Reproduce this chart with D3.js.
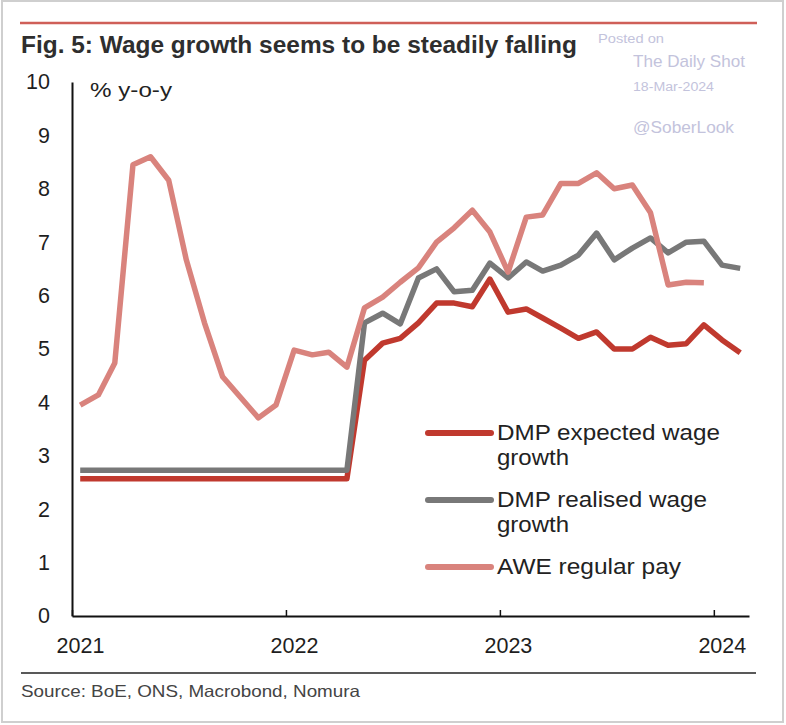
<!DOCTYPE html>
<html><head><meta charset="utf-8">
<script src="https://cdn.jsdelivr.net/npm/d3@7"></script>
<style>
body{margin:0;background:#fff;}
svg text{font-family:"Liberation Sans",Arial,sans-serif;}
</style></head>
<body><svg id="c" width="786" height="725"></svg>
<script>
const months = ["2021-01","2021-02","2021-03","2021-04","2021-05","2021-06","2021-07","2021-08","2021-09","2021-10","2021-11","2021-12",
"2022-01","2022-02","2022-03","2022-04","2022-05","2022-06","2022-07","2022-08","2022-09","2022-10","2022-11","2022-12",
"2023-01","2023-02","2023-03","2023-04","2023-05","2023-06","2023-07","2023-08","2023-09","2023-10","2023-11","2023-12",
"2024-01","2024-02"];
const dmpExpected = [2.57,2.57,2.57,2.57,2.57,2.57,2.57,2.57,2.57,2.57,2.57,2.57,2.57,2.57,2.57,2.57,
4.79,5.11,5.2,5.49,5.86,5.86,5.79,6.31,5.69,5.75,5.58,5.39,5.2,5.32,5.0,5.0,5.22,5.07,5.1,5.45,5.17,4.93];
const dmpRealised = [2.73,2.73,2.73,2.73,2.73,2.73,2.73,2.73,2.73,2.73,2.73,2.73,2.73,2.73,2.73,2.73,
5.49,5.67,5.47,6.33,6.5,6.07,6.1,6.61,6.33,6.63,6.46,6.57,6.76,7.17,6.67,6.89,7.08,6.8,7.0,7.02,6.57,6.51];
const aweRegular = [3.95,4.14,4.74,8.45,8.6,8.16,6.67,5.49,4.48,4.1,3.71,3.95,
4.98,4.89,4.94,4.66,5.77,5.97,6.25,6.52,7.0,7.27,7.6,7.19,
6.44,7.47,7.51,8.1,8.1,8.3,8.0,8.07,7.55,6.2,6.25,6.24,null,null];
const yTicks = [0,1,2,3,4,5,6,7,8,9,10];
const xTickYears = ["2021","2022","2023","2024"];
const seriesNames = ["DMP expected wage|growth","DMP realised wage|growth","AWE regular pay"];
const seriesColors = ["#c0392e","#787878","#d9837d"];

const svg = d3.select("#c");
const parseM = d3.timeParse("%Y-%m");
const parseY = d3.timeParse("%Y");
const dates = months.map(m => d3.timeDay.offset(parseM(m), 14));

const x = d3.scaleTime().domain([parseY("2021"), parseM("2024-03")]).range([72, 749]);
const y = d3.scaleLinear().domain([0, 10]).range([616, 82]);

function fit(sel, w){ sel.attr("textLength", w).attr("lengthAdjust","spacingAndGlyphs"); return sel; }

// frame
svg.append("rect").attr("x",2).attr("y",1).attr("width",781).attr("height",721)
  .attr("fill","none").attr("stroke","#cfcfcf").attr("stroke-width",2);
// top red rule
svg.append("line").attr("x1",20).attr("x2",757).attr("y1",23).attr("y2",23)
  .attr("stroke","#cf5f58").attr("stroke-width",2.5);
// title
fit(svg.append("text").attr("x",21).attr("y",53).attr("font-size",23).attr("font-weight","bold")
  .attr("fill","#2e2e2e").text("Fig. 5: Wage growth seems to be steadily falling"), 556);
// watermark
const wm = "#c3c3dc";
fit(svg.append("text").attr("x",598).attr("y",43).attr("font-size",12.5).attr("fill",wm).text("Posted on"),66);
fit(svg.append("text").attr("x",633).attr("y",67).attr("font-size",17).attr("fill",wm).text("The Daily Shot"),112);
fit(svg.append("text").attr("x",633).attr("y",91).attr("font-size",12.5).attr("fill",wm).text("18-Mar-2024"),81);
fit(svg.append("text").attr("x",633).attr("y",133).attr("font-size",16).attr("fill",wm).text("@SoberLook"),101);

// y axis
const yAxis = svg.append("g").attr("transform","translate(72,0)")
  .call(d3.axisLeft(y).tickValues(yTicks).tickSize(0).tickPadding(22).tickSizeOuter(0));
yAxis.select(".domain").attr("stroke","#111").attr("stroke-width",2);
yAxis.selectAll("text").attr("font-size",21.5).attr("fill","#1e1e1e").attr("font-family","Liberation Sans, Arial, sans-serif");

// x axis
const xAxis = svg.append("g").attr("transform","translate(0,616)")
  .call(d3.axisBottom(x).tickValues(xTickYears.map(parseY)).tickFormat(d3.timeFormat("%Y"))
    .tickSize(-6).tickSizeOuter(0).tickPadding(0));
xAxis.select(".domain").attr("stroke","#111").attr("stroke-width",2);
xAxis.selectAll(".tick line").attr("stroke","#111").attr("stroke-width",1.5);
xAxis.selectAll("text").attr("font-size",21.5).attr("fill","#1e1e1e").attr("font-family","Liberation Sans, Arial, sans-serif")
  .attr("dy",null).attr("y",37).attr("x",8);

// unit label
fit(svg.append("text").attr("x",90).attr("y",97).attr("font-size",21).attr("fill","#222").text("% y-o-y"),82);

// lines
const seriesData = [dmpExpected, dmpRealised, aweRegular];
const line = d3.line().defined(d => d[1] != null).x(d => x(d[0])).y(d => y(d[1]));
seriesData.forEach((vals, i) => {
  svg.append("path").datum(dates.map((d, j) => [d, vals[j]]))
    .attr("fill","none").attr("stroke",seriesColors[i]).attr("stroke-width",5.5)
    .attr("stroke-linejoin","round").attr("d", line);
});

// legend
const legY = [433, 500, 567];
const legW = [[223,72],[210,72],[184]];
seriesNames.forEach((nm, i) => {
  svg.append("line").attr("x1",428).attr("x2",491).attr("y1",legY[i]).attr("y2",legY[i])
    .attr("stroke",seriesColors[i]).attr("stroke-width",6).attr("stroke-linecap","round");
  nm.split("|").forEach((t, k) => {
    fit(svg.append("text").attr("x",497).attr("y",legY[i]+7+k*25).attr("font-size",22.5).attr("fill","#222").text(t), legW[i][k]);
  });
});

// source
svg.append("line").attr("x1",21).attr("x2",756).attr("y1",673).attr("y2",673).attr("stroke","#222").attr("stroke-width",1.5);
fit(svg.append("text").attr("x",21).attr("y",697).attr("font-size",16.5).attr("fill","#444").text("Source: BoE, ONS, Macrobond, Nomura"),339);
</script></body></html>
